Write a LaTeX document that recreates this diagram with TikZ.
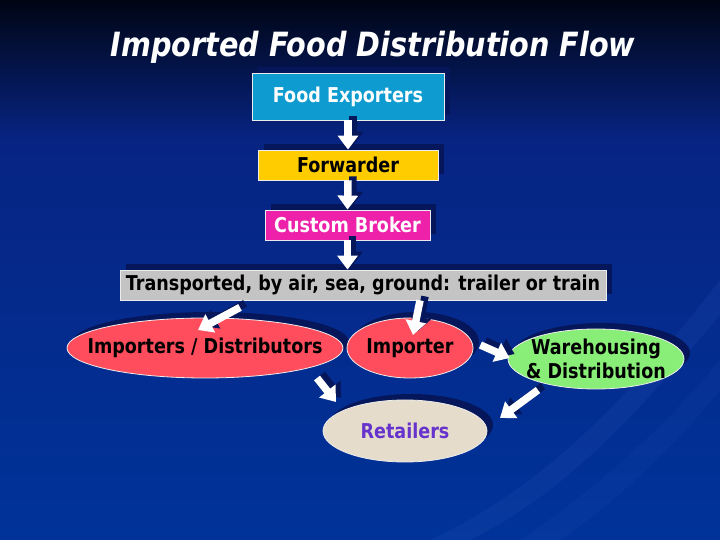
\documentclass[tikz,border=0pt]{standalone}
\usepackage{fontspec}
\usepackage{xcolor}
\usetikzlibrary{arrows.meta, shapes.geometric, shadows}
\newfontfamily\slidefont[FakeStretch=0.86]{DejaVu Sans}
\definecolor{NightBlue}{HTML}{000514}
\definecolor{MidBlue}{HTML}{072483}
\definecolor{SlideBlue}{HTML}{003399}
\definecolor{SwooshBlue}{HTML}{2A55B8}
\definecolor{ShadowBlue}{HTML}{06165A}
\definecolor{ExportCyan}{HTML}{0E9CD0}
\definecolor{ForwardGold}{HTML}{FFCC00}
\definecolor{BrokerPink}{HTML}{EE22AA}
\definecolor{TransGray}{HTML}{C4C4C4}
\definecolor{ImportRed}{HTML}{FF4D5E}
\definecolor{WareGreen}{HTML}{88EE77}
\definecolor{RetailSand}{HTML}{E6DCCB}
\definecolor{RetailPurple}{HTML}{6633CC}
\newcommand{\ovaltext}[1]{\makebox[0pt]{#1}}
\tikzset{
  slidebox/.style={draw=white!85!gray, line width=0.8bp, inner sep=0pt,
    font=\slidefont\bfseries\fontsize{20.5}{24}\selectfont, align=center,
    drop shadow={shadow xshift=6bp, shadow yshift=6bp, fill=ShadowBlue, opacity=1}},
  slideoval/.style={slidebox, ellipse},
  flowarrow/.style={line width=7.5bp, white, -{Triangle[width=20bp,length=14bp]}},
  flowshadow/.style={flowarrow, ShadowBlue, transform canvas={shift={(5bp,4bp)}}}
}

\begin{document}
\begin{tikzpicture}[x=1bp, y=1bp]
\useasboundingbox (0,0) rectangle (720,540);
% slide background
\shade[top color=NightBlue, bottom color=MidBlue] (0,400) rectangle (720,540);
\shade[top color=MidBlue, bottom color=SlideBlue] (0,0) rectangle (720,400);
\fill[SwooshBlue, opacity=0.18] (430,0) .. controls (560,60) and (650,170) .. (720,260)
  -- (720,225) .. controls (640,130) and (570,50) .. (470,0) -- cycle;
\fill[SwooshBlue, opacity=0.12] (520,0) .. controls (610,60) and (680,130) .. (720,180)
  -- (720,150) .. controls (680,100) and (620,40) .. (560,0) -- cycle;

\node[text=white, font=\slidefont\bfseries\itshape\fontsize{33.5}{36}\selectfont] (title) at (373,493) {Imported Food Distribution Flow};

% boxes
\node[slidebox, fill=ExportCyan, text=white, minimum width=192bp, minimum height=47bp] (fe) at (348,443.5) {Food Exporters};
\node[slidebox, fill=ForwardGold, text=black, minimum width=180bp, minimum height=30bp] (fw) at (348,375) {Forwarder};
\node[slidebox, fill=BrokerPink, text=white, minimum width=165bp, minimum height=30bp] (cb) at (347.5,315) {Custom Broker};
\node[slidebox, fill=TransGray, text=black, minimum width=486bp, minimum height=30bp] (tr) at (363,255) {Transported, by air, sea, ground: trailer or train};

% ovals
\node[slideoval, fill=ImportRed, text=black, minimum width=276bp, minimum height=60bp] (idist) at (205,192) {\ovaltext{Importers / Distributors}};
\node[slideoval, fill=ImportRed, text=black, minimum width=126bp, minimum height=60bp] (imp) at (410,192) {\ovaltext{Importer}};
\node[slideoval, fill=WareGreen, text=black, minimum width=176bp, minimum height=60bp] (wh) at (596,181) {\ovaltext{Warehousing}\\\ovaltext{\& Distribution}};
\node[slideoval, fill=RetailSand, text=RetailPurple, minimum width=164bp, minimum height=62bp] (ret) at (405,109) {\ovaltext{Retailers}};

% arrow ends
\coordinate (trTop) at (cb.south |- tr.north);
\coordinate (trA) at ([shift={(-123,-7)}]tr.south);
\coordinate (trB) at ([shift={(57,0)}]tr.south);
\coordinate (idA) at ([shift={(-7,18)}]idist.center);
\coordinate (impA) at ([shift={(3,13)}]imp.center);
\coordinate (impB) at ([shift={(7,3)}]imp.east);
\coordinate (whA) at ([shift={(2,1)}]wh.west);
\coordinate (idB) at ([shift={(112,-30)}]idist.center);
\coordinate (retA) at ([shift={(-69,29)}]ret.center);
\coordinate (whB) at ([shift={(-58,-31)}]wh.center);
\coordinate (retB) at ([shift={(95,13)}]ret.center);

\foreach \from/\to in {fe.south/fw.north, fw.south/cb.north, cb.south/trTop,
    trA/idA, trB/impA, impB/whA, idB/retA, whB/retB} {
  \draw[flowshadow] (\from) -- (\to);
  \draw[flowarrow] (\from) -- (\to);
}
\end{tikzpicture}
\end{document}
